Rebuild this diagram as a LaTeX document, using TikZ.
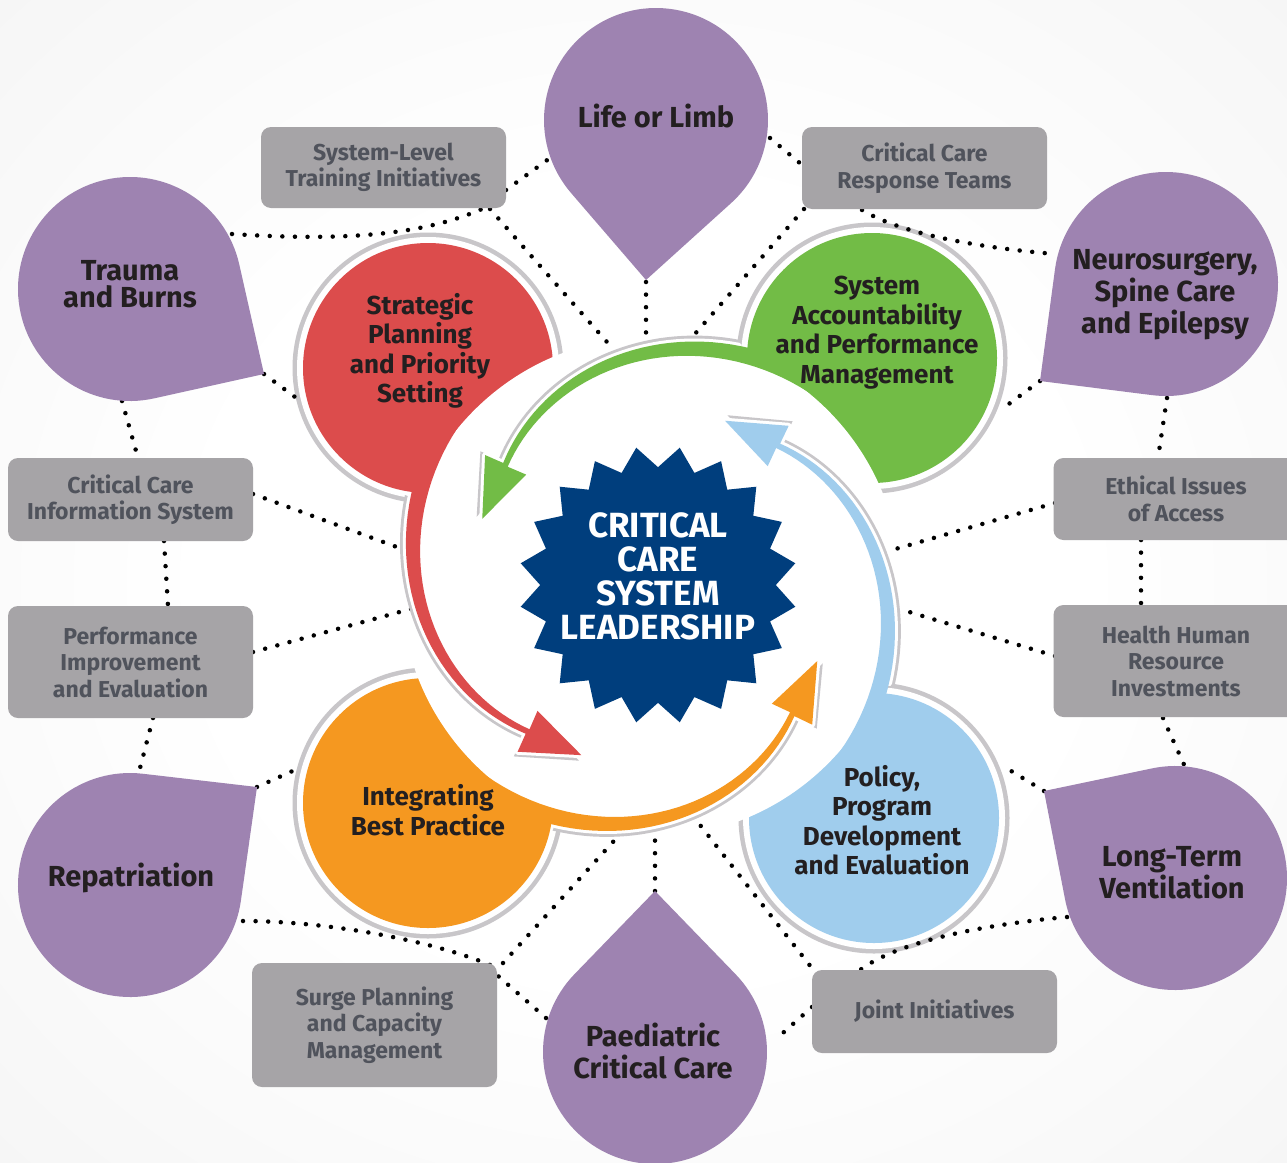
\documentclass[tikz,border=0pt]{standalone}
\usepackage{fontspec}
\setmainfont{Fira Sans}
\usetikzlibrary{calc,shapes.geometric}
\definecolor{bgc}{RGB}{239,239,239}
\definecolor{purp}{RGB}{158,131,177}
\definecolor{boxg}{RGB}{166,164,167}
\definecolor{boxt}{RGB}{80,83,92}
\definecolor{inkc}{RGB}{35,31,32}
\definecolor{redc}{RGB}{220,76,76}
\definecolor{greenc}{RGB}{114,188,70}
\definecolor{orangec}{RGB}{245,152,32}
\definecolor{bluec}{RGB}{160,205,237}
\definecolor{navyc}{RGB}{0,62,125}
\definecolor{ringc}{RGB}{200,198,201}
\pgfdeclareradialshading{bgshade}{\pgfpointorigin}{color(0bp)=(white); color(17bp)=(white); color(50bp)=(bgc)}
% teardrop: cx, cy, r, tipx, tipy
\newcommand\tdrop[5]{%
  \pgfmathsetmacro\tdD{veclen((#4)-(#1),(#5)-(#2))}%
  \pgfmathsetmacro\tdA{atan2((#5)-(#2),(#4)-(#1))}%
  \pgfmathsetmacro\tdH{acos((#3)/\tdD)}%
  \pgfmathsetmacro\tdS{\tdA+\tdH}%
  \pgfmathsetmacro\tdE{\tdA-\tdH+360}%
  \fill[purp] (#4,#5) -- ($(#1,#2)+(\tdS:#3)$) arc[start angle=\tdS, end angle=\tdE, radius=#3] -- cycle;}
% spiral arrow: phi, radial offset, alpha start, style
\newcommand\arrowfill[4]{%
  \fill[#4] plot[domain=#3:94,samples=40,variable=\a] ({651+(rb(\a)+wb(\a)/2+#2)*cos(#1-\a)},{587+(rb(\a)+wb(\a)/2+#2)*sin(#1-\a)})
   -- ({651+(212+#2)*cos(#1-95.5)},{587+(212+#2)*sin(#1-95.5)})
   -- ({651+(182+#2)*cos(#1-112)},{587+(182+#2)*sin(#1-112)})
   -- ({651+(168+#2)*cos(#1-92)},{587+(168+#2)*sin(#1-92)})
   -- plot[domain=94:#3,samples=40,variable=\a] ({651+(rb(\a)-wb(\a)/2+#2)*cos(#1-\a)},{587+(rb(\a)-wb(\a)/2+#2)*sin(#1-\a)})
   -- cycle;}
\begin{document}
\begin{tikzpicture}[x=1pt,y=-1pt,
  declare function={rb(\t)=262.5-0.507*\t-0.0028*\t*\t; wb(\t)=19.5-0.145*\t;},
  dotline/.style={line width=4.5pt, line cap=round, dash pattern=on 0pt off 12.6pt, draw=black},
  gbox/.style={rounded corners=10pt, fill=boxg, text=boxt, font=\bfseries\fontsize{23}{26.5}\selectfont, align=center, minimum width=245pt, inner sep=0pt},
  tdtext/.style={text=inkc, font=\bfseries\fontsize{29}{32}\selectfont, align=center},
  btext/.style={text=inkc, font=\bfseries\fontsize{26}{29.5}\selectfont, align=center}]
\useasboundingbox (0,0) rectangle (1287,1162);
\shade[shading=bgshade] (0,0) rectangle (1287,1162);
\clip (0,0) rectangle (1287,1162);

% bubbles
\coordinate (cred) at (428,368);
\coordinate (cgreen) at (872,358);
\coordinate (corange) at (428,803);
\coordinate (cblue) at (874,818);
\coordinate (ctr) at (651,587);
\foreach \c in {cred,cgreen,corange,cblue}{
  \fill[ringc] (\c) circle[radius=135.5];
  \fill[white] (\c) circle[radius=131];
}
\fill[redc] (cred) circle[radius=125];
\fill[greenc] (cgreen) circle[radius=125];
\fill[orangec] (corange) circle[radius=125];
\fill[bluec] (cblue) circle[radius=125];
\fill[white] (ctr) circle[radius=250];

% connector end points
\coordinate (ta) at (232,234);   \coordinate (sla) at (482,209);
\coordinate (slb) at (490,209);  \coordinate (cb) at (614,350);
\coordinate (slc) at (506,190);  \coordinate (lfc) at (550,158);
\coordinate (lfd) at (646,282);  \coordinate (cd) at (646,344);
\coordinate (lfe) at (770,138);  \coordinate (cre) at (801,164);
\coordinate (crf) at (804,209);  \coordinate (cf) at (694,335);
\coordinate (crg) at (862,210);  \coordinate (nsg) at (1055,254);
\coordinate (nsh) at (1040,381); \coordinate (gh) at (1002,409);
\coordinate (nsi) at (1167,398); \coordinate (eii) at (1158,458);
\coordinate (eij) at (1055,503); \coordinate (cj) at (892,550);
\coordinate (eik) at (1141,540); \coordinate (hhk) at (1141,605);
\coordinate (hhl) at (1055,656); \coordinate (cl) at (906,611);
\coordinate (hhm) at (1163,718); \coordinate (ltm) at (1186,769);
\coordinate (ltn) at (1044,791); \coordinate (bn) at (1003,766);
\coordinate (lto) at (1067,917); \coordinate (jio) at (860,970);
\coordinate (jip) at (812,1007); \coordinate (pdp) at (775,1040);
\coordinate (cq) at (693,816);   \coordinate (jiq) at (815,972);
\coordinate (pdr) at (655,891);  \coordinate (cr) at (655,829);
\coordinate (pds) at (546,1018); \coordinate (sps) at (497,975);
\coordinate (spt) at (503,963);  \coordinate (ct) at (622,832);
\coordinate (repu) at (243,921); \coordinate (spu) at (497,968);
\coordinate (repv) at (257,787); \coordinate (ov) at (297,769);
\coordinate (piw) at (153,718);  \coordinate (repw) at (139,772);
\coordinate (pix) at (253,652);  \coordinate (cx) at (418,607);
\coordinate (ciy) at (164,541);  \coordinate (piy) at (168,606);
\coordinate (ciz) at (253,494);  \coordinate (cz) at (405,550);
\coordinate (taa) at (122,401);  \coordinate (ciaa) at (138,458);
\coordinate (tbb) at (264,374);  \coordinate (rbb) at (295,397);

% dotted connectors
\draw[dotline] (ta) .. controls (340,241) and (420,236) .. (sla);
\draw[dotline] (slb) -- (cb);
\draw[dotline] (slc) -- (lfc);
\draw[dotline] (lfd) -- (cd);
\draw[dotline] (lfe) -- (cre);
\draw[dotline] (crf) -- (cf);
\draw[dotline] (crg) .. controls (895,230) and (960,246) .. (nsg);
\draw[dotline] (nsh) -- (gh);
\draw[dotline] (nsi) -- (eii);
\draw[dotline] (eij) -- (cj);
\draw[dotline] (eik) -- (hhk);
\draw[dotline] (hhl) -- (cl);
\draw[dotline] (hhm) -- (ltm);
\draw[dotline] (ltn) -- (bn);
\draw[dotline] (lto) .. controls (990,924) and (900,940) .. (jio);
\draw[dotline] (jip) -- (pdp);
\draw[dotline] (cq) -- (jiq);
\draw[dotline] (pdr) -- (cr);
\draw[dotline] (pds) -- (sps);
\draw[dotline] (spt) -- (ct);
\draw[dotline] (repu) .. controls (330,921) and (440,942) .. (spu);
\draw[dotline] (repv) -- (ov);
\draw[dotline] (piw) -- (repw);
\draw[dotline] (pix) -- (cx);
\draw[dotline] (ciy) -- (piy);
\draw[dotline] (ciz) -- (cz);
\draw[dotline] (taa) -- (ciaa);
\draw[dotline] (tbb) -- (rbb);

% teardrops
\tdrop{656}{120}{112}{646}{280}
\tdrop{130}{289}{112}{264}{374}
\tdrop{1166}{284}{112}{1040}{381}
\tdrop{1175}{878}{112}{1044}{791}
\tdrop{130}{885}{112}{257}{787}
\tdrop{655}{1052}{112}{655}{891}

% grey boxes
\node[gbox, minimum height=81pt] (bsl) at (383.5,167.5) {System-Level\\Training Initiatives};
\node[gbox, minimum height=82pt] (bcr) at (924.5,168) {Critical Care\\Response Teams};
\node[gbox, minimum height=83pt] (bci) at (130.5,499.5) {Critical Care\\Information System};
\node[gbox, minimum height=112pt] (bpi) at (130.5,662) {Performance\\Improvement\\and Evaluation};
\node[gbox, minimum height=82pt] (bei) at (1176,499) {Ethical Issues\\of Access};
\node[gbox, minimum height=112pt] (bhh) at (1176,661) {Health Human\\Resource\\Investments};
\node[gbox, minimum height=124pt] (bsp) at (374.5,1025) {Surge Planning\\and Capacity\\Management};
\node[gbox, minimum height=83pt] (bji) at (934.5,1011.5) {Joint Initiatives};

% spiral arrows: grey rim, white halo, colour
\foreach \p in {224.5,314,136,46}{\arrowfill{\p}{6}{24}{ringc}}
\foreach \p in {224.5,314,136,46}{\arrowfill{\p}{0}{24}{white, draw=white, line width=6pt, line join=round}}
\arrowfill{224.5}{0}{5}{redc}
\arrowfill{314}{0}{5}{greenc}
\arrowfill{136}{0}{5}{orangec}
\arrowfill{46}{0}{5}{bluec}

% centre seal
\node[star, star points=20, star point ratio=1.18, minimum size=278pt, inner sep=0pt, fill=navyc, rotate=9] (seal) at (658,585) {};
\node[text=white, font=\bfseries\fontsize{35}{34}\selectfont, align=center] (sealtext) at (658,576) {CRITICAL\\CARE\\SYSTEM\\LEADERSHIP};

% bubble texts
\node[btext] (tred) at (420,351) {Strategic\\Planning\\and Priority\\Setting};
\node[btext] (tgreen) at (877,332.5) {System\\Accountability\\and Performance\\Management};
\node[btext] (torange) at (428,810) {Integrating\\Best Practice};
\node[btext] (tblue) at (882,820) {Policy,\\Program\\Development\\and Evaluation};

% teardrop texts
\node[tdtext] (tlife) at (656,115.5) {Life or Limb};
\node[tdtext, font=\bfseries\fontsize{29}{27}\selectfont] (ttrauma) at (130,284) {Trauma\\and Burns};
\node[tdtext] (tneuro) at (1165,295) {Neurosurgery,\\Spine Care\\and Epilepsy};
\node[tdtext] (tlong) at (1172,873) {Long-Term\\Ventilation};
\node[tdtext] (trep) at (131,878) {Repatriation};
\node[tdtext] (tpaed) at (653,1050.5) {Paediatric\\Critical Care};
\end{tikzpicture}
\end{document}
